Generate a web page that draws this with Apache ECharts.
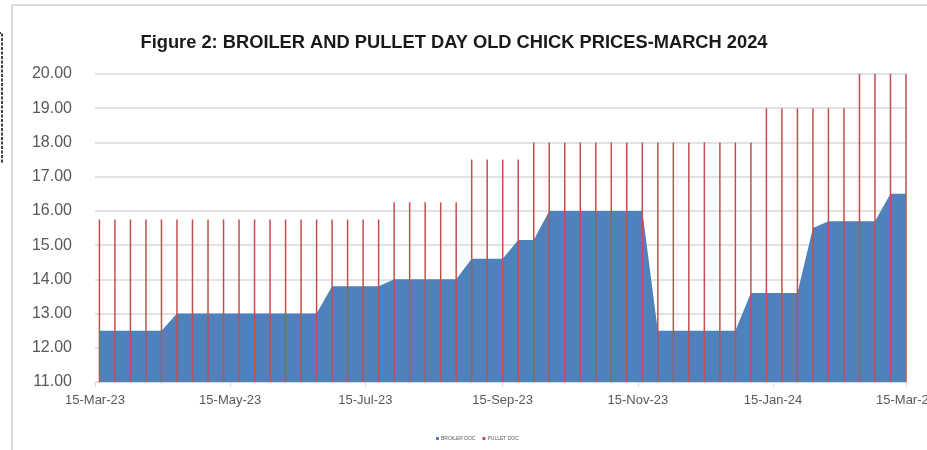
<!DOCTYPE html>
<html>
<head>
<meta charset="utf-8">
<script src="https://cdn.jsdelivr.net/npm/echarts@6/dist/echarts.min.js"></script>
<style>
  html, body { margin: 0; padding: 0; background: #fff; }
  #main { width: 927px; height: 450px; }
</style>
</head>
<body>
<div id="main"></div>
<script>
// weekly observation dates (Fridays)
const weekDates = [
  '2023-03-17', '2023-03-24', '2023-03-31', '2023-04-07', '2023-04-14', '2023-04-21', '2023-04-28',
  '2023-05-05', '2023-05-12', '2023-05-19', '2023-05-26', '2023-06-02', '2023-06-09', '2023-06-16',
  '2023-06-23', '2023-06-30', '2023-07-07', '2023-07-14', '2023-07-21', '2023-07-28', '2023-08-04',
  '2023-08-11', '2023-08-18', '2023-08-25', '2023-09-01', '2023-09-08', '2023-09-15', '2023-09-22',
  '2023-09-29', '2023-10-06', '2023-10-13', '2023-10-20', '2023-10-27', '2023-11-03', '2023-11-10',
  '2023-11-17', '2023-11-24', '2023-12-01', '2023-12-08', '2023-12-15', '2023-12-22', '2023-12-29',
  '2024-01-05', '2024-01-12', '2024-01-19', '2024-01-26', '2024-02-02', '2024-02-09', '2024-02-16',
  '2024-02-23', '2024-03-01', '2024-03-08', '2024-03-15'
];

const broilerDoc = [
  12.5, 12.5, 12.5, 12.5, 12.5, 13.0, 13.0, 13.0, 13.0, 13.0, 13.0, 13.0, 13.0, 13.0,
  13.0, 13.8, 13.8, 13.8, 13.8, 14.0, 14.0, 14.0, 14.0, 14.0, 14.6, 14.6, 14.6, 15.15,
  15.15, 16.0, 16.0, 16.0, 16.0, 16.0, 16.0, 16.0, 12.5, 12.5, 12.5, 12.5, 12.5, 12.5,
  13.6, 13.6, 13.6, 13.6, 15.5, 15.7, 15.7, 15.7, 15.7, 16.5, 16.5
];

const pulletDoc = [
  15.75, 15.75, 15.75, 15.75, 15.75, 15.75, 15.75, 15.75, 15.75, 15.75, 15.75, 15.75, 15.75, 15.75,
  15.75, 15.75, 15.75, 15.75, 15.75, 16.25, 16.25, 16.25, 16.25, 16.25, 17.5, 17.5, 17.5, 17.5,
  18, 18, 18, 18, 18, 18, 18, 18, 18, 18, 18, 18, 18, 18,
  18, 19, 19, 19, 19, 19, 19, 20, 20, 20, 20
];

const xTickDates = ['2023-03-15', '2023-05-15', '2023-07-15', '2023-09-15', '2023-11-15', '2024-01-15', '2024-03-15'];
const yTicks = [11, 12, 13, 14, 15, 16, 17, 18, 19, 20];

const MONTHS = ['Jan', 'Feb', 'Mar', 'Apr', 'May', 'Jun', 'Jul', 'Aug', 'Sep', 'Oct', 'Nov', 'Dec'];

function toTime(s) {
  const p = s.split('-').map(Number);
  return new Date(p[0], p[1] - 1, p[2]).getTime();
}
function fmtDate(v) {
  const d = new Date(v);
  return d.getDate() + '-' + MONTHS[d.getMonth()] + '-' + String(d.getFullYear()).slice(2);
}

const font = "'Liberation Sans', Arial, sans-serif";
const xTicks = xTickDates.map(toTime);

var myChart = echarts.init(document.getElementById('main'));
myChart.setOption({
  backgroundColor: '#fff',
  animation: false,
  title: {
    text: 'Figure 2: BROILER AND PULLET DAY OLD CHICK PRICES-MARCH 2024',
    left: 449,
    textAlign: 'center',
    top: 29,
    textStyle: { fontFamily: font, fontSize: 18.3, fontWeight: 'bold', color: '#1a1a1a' }
  },
  legend: {
    left: 431,
    top: 431,
    itemWidth: 3,
    itemHeight: 3,
    itemGap: 7,
    icon: 'rect',
    textStyle: { fontFamily: font, fontSize: 5, color: '#595959', padding: [0, 0, 0, -3] },
    data: [
      { name: 'BROILER DOC', itemStyle: { color: '#4f81bd' } },
      { name: 'PULLET DOC', itemStyle: { color: '#c0504d' } }
    ]
  },
  grid: { left: 95, right: 21, top: 74, bottom: 68, containLabel: false, outerBoundsMode: 'none' },
  xAxis: {
    type: 'value',
    min: xTicks[0],
    max: xTicks[xTicks.length - 1],
    splitLine: { show: false },
    axisLine: { show: true, onZero: false, lineStyle: { color: '#d9d9d9', width: 1 } },
    axisTick: { show: true, length: 5, customValues: xTicks, lineStyle: { color: '#d9d9d9' } },
    axisLabel: {
      customValues: xTicks,
      formatter: fmtDate,
      margin: 12,
      fontFamily: font,
      fontSize: 13,
      color: '#595959',
      showMinLabel: true,
      showMaxLabel: true,
      hideOverlap: false
    }
  },
  yAxis: {
    type: 'value',
    min: yTicks[0],
    max: yTicks[yTicks.length - 1],
    interval: 1,
    axisLine: { show: false },
    axisTick: { show: false },
    splitLine: { lineStyle: { color: '#d9d9d9', width: 1.5 } },
    axisLabel: {
      margin: 23,
      fontFamily: font,
      fontSize: 16,
      color: '#595959',
      formatter: v => v.toFixed(2)
    }
  },
  series: [
    {
      name: 'BROILER DOC',
      type: 'line',
      data: weekDates.map((d, i) => [toTime(d), broilerDoc[i]]),
      showSymbol: false,
      lineStyle: { width: 0 },
      itemStyle: { color: '#4f81bd' },
      areaStyle: { color: '#4f81bd', opacity: 1, origin: 'start' },
      z: 2
    },
    {
      name: 'PULLET DOC',
      type: 'custom',
      data: weekDates.map((d, i) => [toTime(d), pulletDoc[i]]),
      itemStyle: { color: '#c0504d' },
      encode: { x: 0, y: 1 },
      clip: false,
      z: 3,
      renderItem: function (params, api) {
        const top = api.coord([api.value(0), api.value(1)]);
        const base = api.coord([api.value(0), yTicks[0]]);
        return {
          type: 'line',
          shape: { x1: top[0], y1: top[1], x2: base[0], y2: base[1] },
          style: { stroke: '#c0504d', lineWidth: 1.5 }
        };
      }
    }
  ],
  graphic: [
    { type: 'line', shape: { x1: 12, y1: 5, x2: 927, y2: 5 }, style: { stroke: '#d9d9d9', lineWidth: 2 } },
    { type: 'line', shape: { x1: 12, y1: 5, x2: 12, y2: 450 }, style: { stroke: '#d9d9d9', lineWidth: 2 } },
    { type: 'rect', shape: { x: -20, y: 33, width: 22, height: 129 }, style: { fill: 'none', stroke: '#000', lineWidth: 1.5, lineDash: [3, 1.5] } }
  ]
});
</script>
</body>
</html>
